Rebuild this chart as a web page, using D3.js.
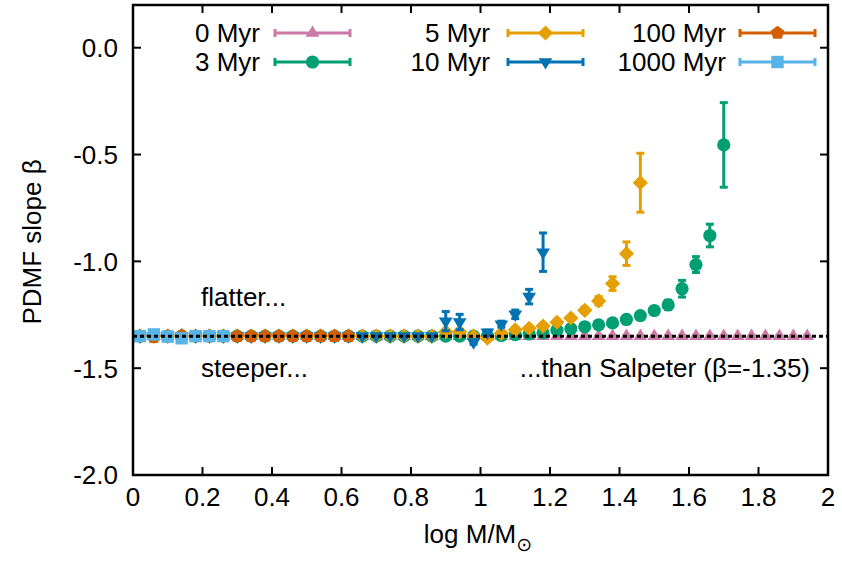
<!DOCTYPE html>
<html>
<head>
<meta charset="utf-8">
<script src="https://cdn.jsdelivr.net/npm/d3@7"></script>
<style>
  html, body { margin: 0; padding: 0; background: #fff; }
  svg text { font-family: "Liberation Sans", Arial, Helvetica, sans-serif; fill: #000; }
</style>
</head>
<body>
<svg id="chart" width="842" height="561"></svg>
<script>
// Bin centres in log M/Msun, shared by every age series
const logMass = [0.02, 0.06, 0.10, 0.14, 0.18, 0.22, 0.26, 0.30, 0.34, 0.38,
                 0.42, 0.46, 0.50, 0.54, 0.58, 0.62, 0.66, 0.70, 0.74, 0.78,
                 0.82, 0.86, 0.90, 0.94, 0.98, 1.02, 1.06, 1.10, 1.14, 1.18,
                 1.22, 1.26, 1.30, 1.34, 1.38, 1.42, 1.46, 1.50, 1.54, 1.58,
                 1.62, 1.66, 1.70, 1.74, 1.78, 1.82, 1.86, 1.90, 1.94];

// PDMF slope per bin (values) and its uncertainty (errors), one pair per age
const beta0 = [-1.35, -1.35, -1.35, -1.35, -1.35, -1.35, -1.35, -1.35, -1.35, -1.35,
               -1.35, -1.35, -1.35, -1.35, -1.35, -1.35, -1.35, -1.35, -1.35, -1.35,
               -1.35, -1.35, -1.35, -1.35, -1.35, -1.35, -1.35, -1.35, -1.35, -1.35,
               -1.35, -1.35, -1.35, -1.35, -1.35, -1.35, -1.35, -1.35, -1.35, -1.35,
               -1.35, -1.35, -1.35, -1.35, -1.35, -1.35, -1.35, -1.35, -1.35];
const err0  = [0.003, 0.003, 0.003, 0.003, 0.003, 0.003, 0.003, 0.003, 0.003, 0.003,
               0.003, 0.003, 0.003, 0.003, 0.003, 0.003, 0.003, 0.003, 0.003, 0.003,
               0.003, 0.003, 0.003, 0.003, 0.003, 0.003, 0.003, 0.003, 0.003, 0.003,
               0.003, 0.003, 0.003, 0.003, 0.003, 0.003, 0.003, 0.003, 0.003, 0.003,
               0.003, 0.003, 0.003, 0.003, 0.003, 0.003, 0.003, 0.003, 0.003];

const beta3 = [-1.35, -1.35, -1.35, -1.35, -1.35, -1.35, -1.35, -1.35, -1.35, -1.35,
               -1.35, -1.35, -1.35, -1.35, -1.35, -1.35, -1.35, -1.35, -1.35, -1.35,
               -1.35, -1.35, -1.35, -1.35, -1.35, -1.35, -1.347, -1.343, -1.34, -1.335,
               -1.322, -1.315, -1.306, -1.297, -1.288, -1.272, -1.254, -1.23, -1.204, -1.128,
               -1.015, -0.879, -0.455];
const err3  = [0.004, 0.004, 0.004, 0.004, 0.004, 0.004, 0.004, 0.004, 0.004, 0.004,
               0.004, 0.004, 0.004, 0.004, 0.004, 0.004, 0.004, 0.004, 0.004, 0.004,
               0.004, 0.004, 0.004, 0.004, 0.004, 0.004, 0.004, 0.005, 0.005, 0.005,
               0.006, 0.006, 0.007, 0.008, 0.009, 0.01, 0.012, 0.015, 0.022, 0.039,
               0.037, 0.053, 0.198];

const beta5 = [-1.35, -1.35, -1.35, -1.35, -1.35, -1.35, -1.35, -1.35, -1.35, -1.35,
               -1.35, -1.35, -1.35, -1.35, -1.35, -1.35, -1.35, -1.35, -1.35, -1.35,
               -1.35, -1.35, -1.33, -1.33, -1.35, -1.36, -1.337, -1.32, -1.313, -1.303,
               -1.285, -1.265, -1.229, -1.185, -1.104, -0.964, -0.632];
const err5  = [0.004, 0.004, 0.004, 0.004, 0.004, 0.004, 0.004, 0.004, 0.004, 0.004,
               0.004, 0.004, 0.004, 0.004, 0.004, 0.004, 0.004, 0.004, 0.004, 0.004,
               0.004, 0.004, 0.006, 0.006, 0.006, 0.006, 0.006, 0.007, 0.008, 0.009,
               0.01, 0.012, 0.014, 0.02, 0.032, 0.055, 0.138];

const beta10 = [-1.35, -1.35, -1.35, -1.35, -1.35, -1.35, -1.35, -1.35, -1.35, -1.35,
                -1.35, -1.35, -1.35, -1.35, -1.35, -1.35, -1.35, -1.35, -1.35, -1.35,
                -1.35, -1.35, -1.28, -1.284, -1.378, -1.332, -1.294, -1.248, -1.165, -0.957];
const err10  = [0.005, 0.005, 0.005, 0.005, 0.005, 0.005, 0.005, 0.005, 0.005, 0.005,
                0.005, 0.005, 0.005, 0.005, 0.005, 0.005, 0.005, 0.005, 0.005, 0.005,
                0.006, 0.006, 0.045, 0.036, 0.01, 0.01, 0.014, 0.02, 0.034, 0.09];

const beta100 = [-1.35, -1.355, -1.35, -1.347, -1.35, -1.35, -1.35, -1.35, -1.35, -1.35,
                 -1.35, -1.35, -1.35, -1.35, -1.35, -1.35];
const err100  = [0.006, 0.006, 0.006, 0.006, 0.006, 0.006, 0.006, 0.006, 0.006, 0.006,
                 0.006, 0.006, 0.006, 0.006, 0.006, 0.006];

const beta1000 = [-1.35, -1.342, -1.352, -1.36, -1.35, -1.35, -1.35];
const err1000  = [0.008, 0.008, 0.008, 0.008, 0.008, 0.008, 0.008];

const ageLabels = ["0 Myr", "3 Myr", "5 Myr", "10 Myr", "100 Myr", "1000 Myr"];
const salpeter = -1.35;

const xTickValues = [0, 0.2, 0.4, 0.6, 0.8, 1, 1.2, 1.4, 1.6, 1.8, 2];
const xTickLabels = ["0", "0.2", "0.4", "0.6", "0.8", "1", "1.2", "1.4", "1.6", "1.8", "2"];
const yTickValues = [0, -0.5, -1, -1.5, -2];
const yTickLabels = ["0.0", "-0.5", "-1.0", "-1.5", "-2.0"];

// ---- layout ----
const svg = d3.select("#chart");
const frameL = 133, frameR = 828, frameT = 5, frameB = 475;
const x = d3.scaleLinear().domain([0, 2]).range([frameL, frameR]);
const y = d3.scaleLinear().domain([-2, 0.2]).range([frameB, frameT]);

// marker shapes, centred on the data point
const shapes = {
  triUp(s) { const h = s * 1.65, w = s; return `M0,${-2*h/3}L${w},${h/3}L${-w},${h/3}Z`; },
  triDown(s) { const h = s * 1.65, w = s; return `M0,${2*h/3}L${w},${-h/3}L${-w},${-h/3}Z`; },
  circle(s) { return `M${s},0A${s},${s} 0 1,1 ${-s},0A${s},${s} 0 1,1 ${s},0Z`; },
  diamond(s) { return `M0,${-s}L${s},0L0,${s}L${-s},0Z`; },
  pentagon(s) {
    const pts = d3.range(5).map(i => {
      const a = -Math.PI / 2 + i * 2 * Math.PI / 5;
      return [s * Math.cos(a), s * Math.sin(a)];
    });
    return "M" + pts.map(p => p.join(",")).join("L") + "Z";
  },
  square(s) { return `M${-s},${-s}H${s}V${s}H${-s}Z`; }
};

const series = [
  { label: ageLabels[0], values: beta0,    errors: err0,    color: "#cc79a7", shape: "triUp",    size: 6.9 },
  { label: ageLabels[1], values: beta3,    errors: err3,    color: "#009e73", shape: "circle",   size: 6.6 },
  { label: ageLabels[2], values: beta5,    errors: err5,    color: "#e69f00", shape: "diamond",  size: 7.6 },
  { label: ageLabels[3], values: beta10,   errors: err10,   color: "#0072b2", shape: "triDown",  size: 6.9 },
  { label: ageLabels[4], values: beta100,  errors: err100,  color: "#d55e00", shape: "pentagon", size: 7.2 },
  { label: ageLabels[5], values: beta1000, errors: err1000, color: "#56b4e9", shape: "square",   size: 6.2 }
];

const plot = svg.append("g");
const capHalf = 4;

series.forEach(s => {
  const pts = s.values.map((v, i) => ({ m: logMass[i], v, e: s.errors[i] }));
  const g = plot.append("g");
  // error bars
  const eb = g.selectAll("g.eb").data(pts).join("g")
    .attr("stroke", s.color).attr("stroke-width", 3).attr("fill", "none");
  eb.append("line")
    .attr("x1", d => x(d.m)).attr("x2", d => x(d.m))
    .attr("y1", d => y(d.v + d.e)).attr("y2", d => y(d.v - d.e));
  eb.append("line")
    .attr("x1", d => x(d.m) - capHalf).attr("x2", d => x(d.m) + capHalf)
    .attr("y1", d => y(d.v + d.e)).attr("y2", d => y(d.v + d.e));
  eb.append("line")
    .attr("x1", d => x(d.m) - capHalf).attr("x2", d => x(d.m) + capHalf)
    .attr("y1", d => y(d.v - d.e)).attr("y2", d => y(d.v - d.e));
  // markers
  g.selectAll("path.mk").data(pts).join("path")
    .attr("d", shapes[s.shape](s.size))
    .attr("transform", d => `translate(${x(d.m)},${y(d.v)})`)
    .attr("fill", s.color);
});

// Salpeter reference slope
svg.append("line")
  .attr("x1", x(0)).attr("x2", x(2))
  .attr("y1", y(salpeter)).attr("y2", y(salpeter))
  .attr("stroke", "#000").attr("stroke-width", 3)
  .attr("stroke-dasharray", "4,3");

// ---- frame and ticks (gnuplot style: inward, mirrored) ----
const tickLen = 8;
const frame = svg.append("g").attr("stroke", "#000").attr("stroke-width", 2);
xTickValues.forEach(v => {
  frame.append("line").attr("x1", x(v)).attr("x2", x(v)).attr("y1", frameB).attr("y2", frameB - tickLen);
  frame.append("line").attr("x1", x(v)).attr("x2", x(v)).attr("y1", frameT).attr("y2", frameT + tickLen);
});
yTickValues.forEach(v => {
  frame.append("line").attr("x1", frameL).attr("x2", frameL + tickLen).attr("y1", y(v)).attr("y2", y(v));
  frame.append("line").attr("x1", frameR).attr("x2", frameR - tickLen).attr("y1", y(v)).attr("y2", y(v));
});
svg.append("rect")
  .attr("x", frameL).attr("y", frameT).attr("width", frameR - frameL).attr("height", frameB - frameT)
  .attr("fill", "none").attr("stroke", "#000").attr("stroke-width", 2.5);

const fs = 26;
const baseOff = 9.4;
svg.append("g").selectAll("text").data(xTickValues).join("text")
  .attr("x", d => x(d)).attr("y", 497 + baseOff)
  .attr("text-anchor", "middle").attr("font-size", fs)
  .text((d, i) => xTickLabels[i]);
svg.append("g").selectAll("text").data(yTickValues).join("text")
  .attr("x", 118).attr("y", d => y(d) + baseOff)
  .attr("text-anchor", "end").attr("font-size", fs)
  .text((d, i) => yTickLabels[i]);

// axis titles
const xt = svg.append("text").attr("x", 478).attr("y", 543)
  .attr("text-anchor", "middle").attr("font-size", fs);
xt.append("tspan").text("log M/M");
xt.append("tspan").attr("dy", 8).attr("font-size", 19).attr("font-family", "DejaVu Sans").text("\u2299");

svg.append("text")
  .attr("transform", `translate(41,242) rotate(-90)`)
  .attr("text-anchor", "middle").attr("font-size", fs)
  .text("PDMF slope \u03b2");

// annotations
svg.append("text").attr("x", 201).attr("y", 306).attr("font-size", fs).text("flatter...");
svg.append("text").attr("x", 201).attr("y", 377).attr("font-size", fs).text("steeper...");
svg.append("text").attr("x", 810).attr("y", 377).attr("text-anchor", "end")
  .attr("font-size", fs).text("...than Salpeter (\u03b2=-1.35)");

// ---- legend ----
const legendCols = [
  { textX: 260, x0: 275, x1: 350 },
  { textX: 490, x0: 508, x1: 583 },
  { textX: 726, x0: 740, x1: 815 }
];
const legendRows = [33, 62];
series.forEach((s, k) => {
  const col = legendCols[Math.floor(k / 2)];
  const ry = legendRows[k % 2];
  const g = svg.append("g");
  g.append("text").attr("x", col.textX).attr("y", ry + baseOff)
    .attr("text-anchor", "end").attr("font-size", fs).text(s.label);
  const lg = g.append("g").attr("stroke", s.color).attr("stroke-width", 3);
  lg.append("line").attr("x1", col.x0).attr("x2", col.x1).attr("y1", ry).attr("y2", ry);
  lg.append("line").attr("x1", col.x0).attr("x2", col.x0).attr("y1", ry - 4).attr("y2", ry + 4);
  lg.append("line").attr("x1", col.x1).attr("x2", col.x1).attr("y1", ry - 4).attr("y2", ry + 4);
  g.append("path").attr("d", shapes[s.shape](s.size))
    .attr("transform", `translate(${(col.x0 + col.x1) / 2},${ry})`)
    .attr("fill", s.color);
});
</script>
</body>
</html>
